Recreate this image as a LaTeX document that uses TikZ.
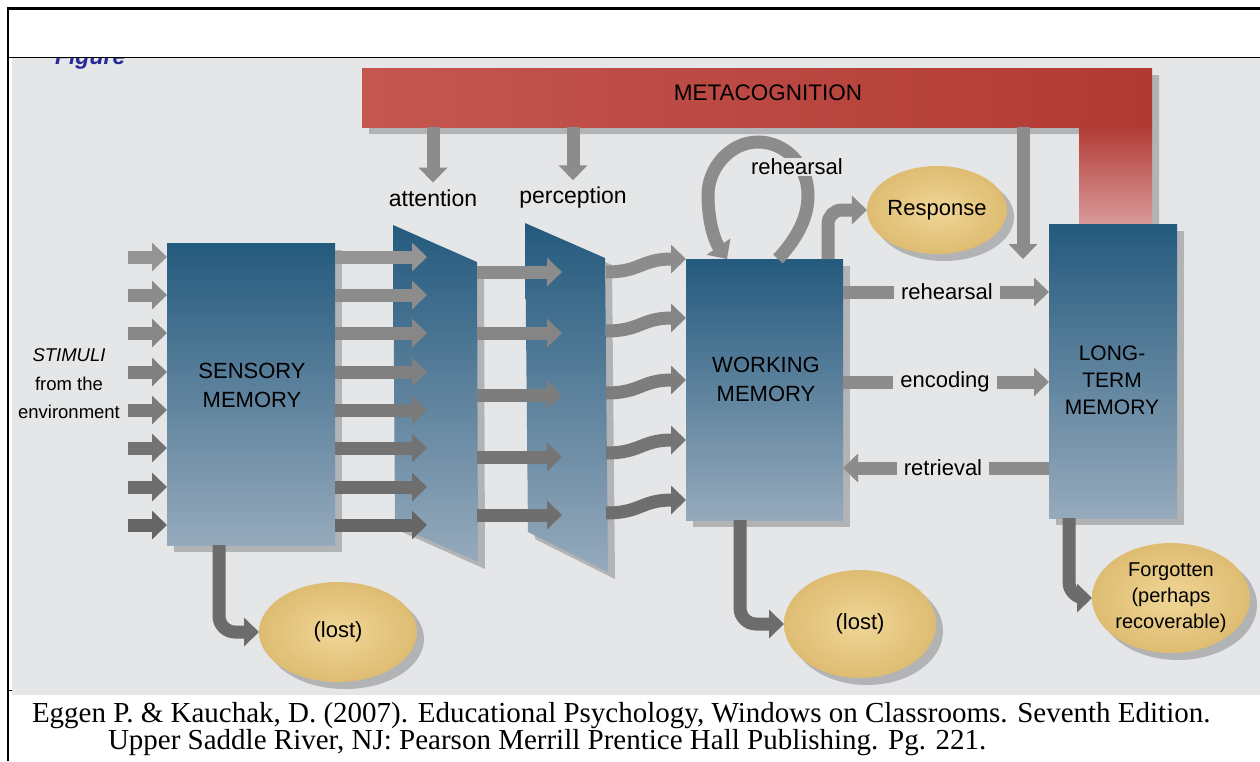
\documentclass[tikz,border=0pt]{standalone}
\usepackage{fontspec}
\setmainfont{Liberation Serif}
\setsansfont{Liberation Sans}
\usetikzlibrary{arrows.meta,shadows,shapes.geometric}
\newcommand\myfs[2]{\fontsize{#1}{#2}\selectfont}
\definecolor{bg}{RGB}{229,230,232}
\definecolor{boxtop}{RGB}{36,90,126}
\definecolor{boxbot}{RGB}{150,170,188}
\definecolor{redA}{RGB}{196,86,80}
\definecolor{redB}{RGB}{178,58,52}
\definecolor{redC}{RGB}{216,154,154}
\definecolor{tanO}{RGB}{222,188,114}
\definecolor{tanI}{RGB}{240,214,150}
\definecolor{ga}{RGB}{140,140,140}
\definecolor{gb}{RGB}{108,108,108}
\definecolor{figblue}{RGB}{40,40,150}
\begin{document}
\begin{tikzpicture}[x=1pt,y=-1pt,
  font=\sffamily,
  every node/.style={inner sep=0pt, outer sep=0pt},
  garr/.style={line width=13pt, draw=#1, -{Triangle[length=15pt,width=28pt]}},
  garr/.default=ga,
  shad/.style={drop shadow={shadow xshift=7pt, shadow yshift=-7pt, opacity=0.22, fill=black}},
  membox/.style={rectangle, top color=boxtop, bottom color=boxbot, shad},
  panel/.style={top color=boxtop, bottom color=boxbot, shad},
  ell/.style={ellipse, inner color=tanI, outer color=tanO, shad, font=\sffamily\myfs{22}{28}},
  lbl/.style={font=\sffamily\myfs{22}{29}, text=black, align=center}
]
\useasboundingbox (0,0) rectangle (1260,761);
\fill[white] (0,0) rectangle (1260,761);
\fill[bg] (12,58) rectangle (1260,695);
% frame
\draw[line width=2.7pt] (8,761) -- (8,8.5) -- (1260,8.5);
\draw[line width=1.2pt] (8,57.5) -- (1260,57.5);
\draw[line width=1pt] (8,690) -- (12,690);
\begin{scope}
  \clip (12,58.6) rectangle (400,120);
  \node[anchor=base west, text=figblue, font=\sffamily\bfseries\itshape\myfs{23}{23}] (figT) at (55,64) {Figure};
\end{scope}

% metacognition bar (L-shaped, one shadow)
\fill[black, opacity=0.22] (369,75) -- (1159,75) -- (1159,231) -- (1086,231) -- (1086,134) -- (369,134) -- cycle;
\node[rectangle, minimum width=790pt, minimum height=59pt, left color=redA, right color=redB] (meta) at (757,97.5) {};
\path[top color=redB, bottom color=redC] (1079,126) rectangle (1152,224);
\node[lbl, font=\sffamily\myfs{22.5}{29}] (metaT) at (768,93) {METACOGNITION};

% panels
\path[panel] (393,225) -- (477,262) -- (478,562) -- (395,525) -- cycle;
\path[panel] (525,223) -- (605,258) -- (608,572) -- (528,532) -- cycle;

% memory boxes
\node[membox, minimum width=168pt, minimum height=302pt] (sens) at (251,394) {};
\node[membox, minimum width=157pt, minimum height=261pt] (wm) at (764.5,389.5) {};
\node[membox, minimum width=128pt, minimum height=294pt] (ltm) at (1113,371) {};
\node[lbl] (sensT) at (252,385) {SENSORY\\MEMORY};
\node[lbl] (wmT) at (766,379) {WORKING\\MEMORY};
\node[lbl, font=\sffamily\myfs{21}{27}] (ltmT) at (1112,380) {LONG-\\TERM\\MEMORY};

% ellipses
\node[ell, minimum width=122pt, minimum height=88pt] (resp) at (937,210) {Response};
\node[ell, minimum width=158pt, minimum height=100pt] (lost1) at (338,632) {(lost)};
\node[ell, minimum width=152pt, minimum height=108pt] (lost2) at (860,624) {(lost)};
\node[ell, minimum width=158pt, minimum height=110pt, align=center, font=\sffamily\myfs{20}{26}] (forg) at (1171,598) {Forgotten\\(perhaps\\recoverable)};

% stimuli
\node[lbl, font=\sffamily\myfs{18.5}{28.5}] (stim) at (69,384) {\textit{STIMULI}\\from the\\environment};

% labels
\node[lbl, font=\sffamily\myfs{23}{29}] (attL) at (433,198) {attention};
\node[lbl, font=\sffamily\myfs{23}{29}] (percL) at (573,198) {perception};
\node[lbl] (rehL) at (947,292) {rehearsal};
\node[lbl] (encL) at (945,382) {encoding};
\node[lbl] (retL) at (943,468) {retrieval};

% input arrows and sensory -> attention
\foreach \y [count=\i, evaluate=\i as \c using int(40+2.5*\i)] in {257,295,333,372,410,448,487,525} {
  \coordinate (in\i) at (128,\y);
  \coordinate (at\i) at (427,\y);
  \draw[garr=black!\c] (in\i) -- (in\i -| sens.west);
  \draw[garr=black!\c] (at\i -| sens.east) -- (at\i);
}
% attention -> perception
\foreach \y [count=\i, evaluate=\i as \c using int(42+3*\i)] in {272,333,395,457,515} {
  \coordinate (ar\i) at (477,\y);
  \coordinate (pl\i) at (562,\y);
  \draw[garr=black!\c] (ar\i) -- (pl\i);
}
% perception -> working memory (wavy)
\foreach \y [count=\i, evaluate=\i as \c using int(42+3*\i)] in {259,318,380,440,500} {
  \coordinate (pr\i) at (606,\y+13);
  \coordinate (wv\i) at (686,\y);
  \draw[garr=black!\c] (pr\i) .. controls +(35,0) and +(-45,0) .. (wm.west |- wv\i);
}

% metacognition arrows
\coordinate (mc3) at (1023,259);
\draw[garr] (meta.south -| attL) -- ([yshift=7pt]attL.north);
\draw[garr] (meta.south -| percL) -- ([yshift=7pt]percL.north);
\draw[garr] (meta.south -| mc3) -- (mc3);

% rehearsal loop
\draw[garr] (778,259) .. controls (800,235) and (808,215) .. (808,195)
   .. controls (808,165) and (785,142) .. (758,142)
   .. controls (730,142) and (708,168) .. (708,195)
   .. controls (708,220) and (714,240) .. (727,259);
\node[lbl, fill=bg, inner sep=1pt] (loopL) at (797,167) {rehearsal};

% response
\coordinate (rx) at (828,0);
\draw[garr, rounded corners=14pt] (wm.north -| rx) |- (resp.west);

% wm <-> ltm
\draw[line width=13pt, draw=ga] (wm.east |- rehL) -- ([xshift=-7pt]rehL.west);
\draw[garr] ([xshift=7pt]rehL.east) -- (ltm.west |- rehL);
\draw[line width=13pt, draw=ga] (wm.east |- encL) -- ([xshift=-7pt]encL.west);
\draw[garr] ([xshift=7pt]encL.east) -- (ltm.west |- encL);
\draw[line width=13pt, draw=ga] (ltm.west |- retL) -- ([xshift=7pt]retL.east);
\draw[garr] ([xshift=-7pt]retL.west) -- (wm.east |- retL);

% to lost / forgotten
\draw[garr=gb, rounded corners=16pt] ([xshift=-32pt]sens.south) |- (lost1.west);
\draw[garr=gb, rounded corners=16pt] ([xshift=-24.5pt]wm.south) |- (lost2.west);
\draw[garr=gb, rounded corners=16pt] ([xshift=-44pt]ltm.south) |- (forg.west);

% caption
\node[anchor=north west, align=left, font=\rmfamily\myfs{29}{26}] (cap) at (32,702)
  {Eggen P. \& Kauchak, D. (2007). Educational Psychology, Windows on Classrooms. Seventh Edition.\\
   \hspace*{76pt}Upper Saddle River, NJ: Pearson Merrill Prentice Hall Publishing. Pg. 221.};
\end{tikzpicture}
\end{document}
